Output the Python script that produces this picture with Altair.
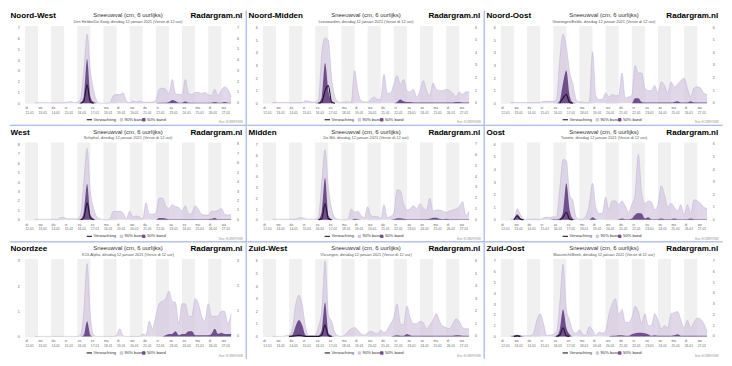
import json
import altair as alt
import pandas as pd

# ---------------- data ----------------
HOURS = list(range(18, 379, 6))  # 12-01 18:00 ... 27-01 18:00, 6-hourly (61 steps)
DAY_NAMES = ["di", "wo", "do", "vr", "za", "zo", "ma", "di", "wo", "do", "vr", "za", "zo", "ma", "di", "wo"]
DAY_DATES = ["12-01", "13-01", "14-01", "15-01", "16-01", "17-01", "18-01", "19-01",
             "20-01", "21-01", "22-01", "23-01", "24-01", "25-01", "26-01", "27-01"]
TICK_HOURS = list(range(0, 361, 24))
SHADED_START = [0, 48, 96, 144, 192, 240, 288, 336]
SHADED_END = [24, 72, 120, 168, 216, 264, 312, 360]

REGIONS = ["Noord-West", "Noord-Midden", "Noord-Oost", "West", "Midden", "Oost",
           "Noordzee", "Zuid-West", "Zuid-Oost"]
STATIONS = ["Den Helder/De Kooy", "Leeuwarden", "Groningen/Eelde", "Schiphol", "De Bilt",
            "Twente", "K13-Alpha", "Vlissingen", "Maastricht/Beek"]
Y_MAX = [7, 6, 6, 8, 7, 6, 3, 6, 7]

N = None
NW_P90 = [0.05, 0.05, 0.05, 0.05, 0.05, 0.05, 0.05, 0.05, 0.05, 0.05, 0.1, 0.15, 0.05,
          0.1, 0.4, 3.0, 6.4, 3.0, 1.2, 0.2, 0.0, 0.0, 0.0, 0.05, 0.7, 0.8, 0.8, 0.95, 0.2,
          0.05, 0.2, 0.1, 0.2, 0.1, 0.1, 0.1, 0.1, 0.3, 1.3, 1.4, 1.3, 0.9, 2.2, 0.9, 0.8,
          0.8, 2.2, 0.9, 0.8, 1.0, 1.0, 0.9, 1.0, 0.8, 0.7, 1.3, 0.7, 1.2, 1.5, 1.3, 0.6]
NW_P50 = [0, 0, 0, 0, 0, 0, 0, 0, 0, 0, 0, 0, 0,
          0, 0.05, 0.6, 4.1, 0.6, 0.1, 0, 0, 0, 0, 0, 0, 0, 0, 0, 0,
          0, 0, 0, 0, 0, 0, 0, 0, 0, 0.05, 0.05, 0.05, 0.1, 0.3, 0.2, 0.05,
          0.05, 0.15, 0.05, 0.05, 0.05, 0.05, 0.05, 0.05, 0.05, 0.05, 0.1, 0.05, 0.05, 0.1, 0.05, 0.05]
NW_MED = [N] * 14 + [0, 0.2, 1.7, 0.1, 0] + [N] * 42

NM_P90 = [0.05, 0.08, 0.05, 0.05, 0.05, 0.05, 0.05, 0.05, 0.05, 0.05, 0.2, 0.15, 0.1,
          0.1, 0.3, 4.0, 5.2, 5.0, 2.0, 0.5, 0.1, 0.05, 0.1, 0.1, 0.05, 2.6, 1.0, 0.2, 0.1,
          0.1, 0.3, 0.5, 0.3, 0.3, 2.3, 0.8, 0.8, 1.5, 2.2, 1.5, 1.9, 1.0, 0.9, 1.1, 0.5,
          1.0, 1.8, 1.0, 0.6, 1.6, 1.1, 1.0, 1.0, 1.1, 1.0, 0.8, 0.5, 0.9, 0.7, 0.9, 0.9]
NM_P50 = [0, 0, 0, 0, 0, 0, 0, 0, 0, 0, 0, 0, 0,
          0, 0.05, 0.5, 3.2, 1.0, 0.2, 0, 0, 0, 0, 0, 0, 0, 0, 0, 0,
          0, 0, 0, 0, 0, 0, 0, 0, 0, 0.1, 0.3, 0.15, 0.1, 0.1, 0.05, 0.05,
          0.05, 0.05, 0.05, 0.05, 0.05, 0.05, 0.05, 0.05, 0.05, 0.05, 0.05, 0.1, 0.1, 0.05, 0.05, 0.05]
NM_MED = [N] * 14 + [0, 0.1, 1.0, 1.4, 0.1, 0] + [N] * 41

NO_P90 = [0.05, 0.08, 0.05, 0.05, 0.05, 0.05, 0.05, 0.05, 0.05, 0.05, 0.15, 0.15, 0.15,
          0.15, 0.3, 3.5, 5.5, 4.5, 2.5, 1.5, 0.3, 0.1, 0.1, 0.05, 0.05, 4.1, 0.6, 0.3, 0.3,
          0.8, 0.5, 0.7, 0.6, 0.6, 2.4, 0.4, 0.5, 0.6, 3.0, 2.4, 2.4, 1.2, 1.0, 1.0, 1.4,
          0.8, 1.7, 1.4, 0.8, 1.7, 1.3, 1.5, 1.8, 2.0, 1.2, 0.5, 1.2, 1.3, 1.2, 0.8, 0.7]
NO_P50 = [0, 0, 0, 0, 0, 0, 0, 0, 0, 0, 0, 0, 0,
          0, 0, 0.2, 1.6, 2.6, 0.6, 0.05, 0, 0, 0, 0, 0, 0, 0, 0, 0,
          0, 0, 0, 0, 0, 0, 0, 0, 0, 0.4, 0.4, 0.1, 0.05, 0.05, 0.05, 0.05,
          0.05, 0.05, 0.05, 0.05, 0.05, 0.1, 0.15, 0.05, 0.05, 0.05, 0.15, 0.05, 0.05, 0.05, 0.05, 0.05]
NO_MED = [N] * 15 + [0, 0.4, 0.7, 0.05, 0] + [N] * 41

W_P90 = [0.05, 0.05, 0.05, 0.05, 0.05, 0.05, 0.05, 0.05, 0.25, 0.25, 0.1, 0.1, 0.1,
         0.1, 0.5, 4.0, 7.6, 3.0, 1.2, 0.3, 0.1, 0.0, 0.0, 0.1, 0.9, 0.9, 0.9, 0.7, 0.1,
         0.9, 0.3, 0.4, 0.3, 0.1, 1.8, 0.6, 0.6, 0.7, 2.3, 2.3, 1.5, 1.2, 1.6, 1.4, 1.3,
         0.9, 1.5, 0.6, 0.7, 1.5, 1.1, 0.6, 0.5, 0.5, 0.9, 0.9, 1.0, 1.2, 0.6, 0.5, 0.6]
W_P50 = [0, 0, 0, 0, 0, 0, 0, 0, 0, 0, 0, 0, 0,
         0, 0.05, 0.8, 3.8, 0.5, 0.1, 0, 0, 0, 0, 0, 0, 0, 0, 0, 0,
         0, 0, 0, 0, 0, 0, 0, 0, 0, 0.2, 0.2, 0.15, 0.05, 0.05, 0.05, 0.05,
         0.05, 0.05, 0.05, 0.05, 0.05, 0.05, 0.05, 0.05, 0.05, 0.1, 0.2, 0.05, 0.05, 0.05, 0.05, 0.05]
W_MED = [N] * 14 + [0, 0.2, 1.8, 0.2, 0] + [N] * 42

M_P90 = [0.05, 0.05, 0.05, 0.05, 0.05, 0.05, 0.05, 0.05, 0.2, 0.2, 0.1, 0.05, 0.05,
         0.05, 0.3, 3.5, 6.5, 3.0, 1.0, 0.2, 0.05, 0.0, 0.0, 0.05, 1.0, 0.7, 0.8, 0.4, 0.2,
         1.2, 0.4, 0.3, 0.3, 0.1, 1.4, 0.2, 0.3, 0.6, 2.8, 2.7, 1.5, 0.9, 1.0, 1.3, 1.0,
         1.5, 1.1, 0.9, 2.0, 0.8, 0.9, 0.9, 0.8, 0.7, 0.8, 0.9, 1.0, 1.2, 1.7, 0.4, 0.8]
M_P50 = [0, 0, 0, 0, 0, 0, 0, 0, 0, 0, 0, 0, 0,
         0, 0.05, 0.8, 3.9, 0.4, 0.05, 0, 0, 0, 0, 0, 0, 0.1, 0.05, 0, 0,
         0, 0, 0, 0, 0, 0, 0, 0, 0.05, 0.15, 0.15, 0.1, 0.05, 0.05, 0.05, 0.05,
         0.05, 0.05, 0.05, 0.1, 0.2, 0.2, 0.1, 0.05, 0.1, 0.05, 0.05, 0.05, 0.05, 0.05, 0.05, 0.05]
M_MED = [N] * 14 + [0, 0.1, 1.5, 0.1, 0] + [N] * 42

O_P90 = [0.05, 0.05, 0.9, 0.4, 0.05, 0.05, 0.05, 0.05, 0.05, 0.05, 0.15, 0.2, 0.2,
         0.25, 0.2, 2.5, 4.8, 4.7, 2.0, 1.5, 0.2, 0.05, 0.05, 0.3, 1.2, 2.9, 1.0, 0.5, 0.5,
         1.8, 0.8, 1.5, 1.5, 1.2, 1.5, 1.1, 0.6, 1.2, 2.0, 5.2, 2.2, 1.3, 1.5, 1.4, 0.8,
         1.2, 2.7, 2.0, 1.0, 1.3, 1.0, 0.7, 1.2, 0.4, 1.2, 0.5, 1.6, 1.5, 1.3, 1.0, 0.9]
O_P50 = [0, 0.05, 0.45, 0.15, 0, 0, 0, 0, 0, 0, 0, 0, 0,
         0.05, 0.05, 0.1, 0.6, 2.9, 0.8, 0.1, 0, 0, 0, 0, 0, 0.2, 0.05, 0, 0,
         0, 0, 0, 0, 0.05, 0.1, 0.05, 0.05, 0.1, 0.4, 0.55, 0.5, 0.1, 0.2, 0.05, 0.05,
         0.05, 0.1, 0.05, 0.05, 0.05, 0.1, 0.05, 0.05, 0.05, 0.05, 0.1, 0.05, 0.05, 0.05, 0.05, 0.05]
O_MED = [N, 0, 0.3, 0.05, 0] + [N] * 10 + [0, 0.2, 0.6, 0.05, 0] + [N] * 41

NZ_P90 = [0, 0, 0, 0, 0, 0, 0, 0, 0, 0, 0, 0, 0,
          0, 0.05, 1.0, 2.9, 0.8, 0.05, 0, 0, 0, 0, 0, 0, 0.05, 0.3, 0.02, 0,
          0, 0, 0, 0, 0.1, 0.05, 0.6, 0.3, 0.8, 1.3, 1.4, 1.5, 1.8, 1.4, 1.35, 0.5,
          1.3, 1.3, 0.8, 0.8, 1.5, 1.3, 0.8, 0.6, 1.3, 0.8, 0.8, 0.8, 1.0, 1.0, 0.5, 0.9]
NZ_P50 = [0, 0, 0, 0, 0, 0, 0, 0, 0, 0, 0, 0, 0,
          0, 0, 0.05, 0.6, 0.05, 0, 0, 0, 0, 0, 0, 0, 0, 0, 0, 0,
          0, 0, 0, 0, 0, 0, 0, 0, 0, 0, 0, 0.05, 0.1, 0.1, 0.2, 0.05,
          0.1, 0.1, 0.2, 0.2, 0.05, 0.05, 0.05, 0.05, 0.05, 0.1, 0.3, 0.1, 0.15, 0.1, 0.1, 0.1]
NZ_MED = [N] * 61

ZW_P90 = [0, 0, 0, 0, 0.05, 0.1, 0.6, 2.5, 3.3, 2.5, 0.8, 0.05, 0.05,
          0.1, 0.8, 2.0, 6.0, 1.7, 1.2, 0.3, 0.05, 0.0, 0.1, 0.4, 0.6, 0.7, 0.5, 0.2, 0.1,
          0.3, 0.4, 0.3, 0.2, 0.5, 0.3, 0.5, 1.0, 1.5, 2.6, 1.0, 0.9, 2.4, 1.5, 1.0, 1.0,
          1.2, 1.1, 0.6, 0.9, 1.3, 1.8, 1.2, 0.8, 0.7, 0.6, 1.0, 1.4, 1.2, 0.7, 0.6, 0.6]
ZW_P50 = [0, 0, 0, 0, 0, 0, 0.1, 0.8, 1.3, 0.9, 0.1, 0, 0,
          0, 0.05, 0.5, 2.7, 0.3, 0.05, 0, 0, 0, 0, 0, 0, 0, 0, 0, 0,
          0, 0, 0, 0, 0, 0, 0, 0, 0.05, 0.1, 0.05, 0.05, 0.2, 0.1, 0.05, 0.05,
          0.05, 0.05, 0.05, 0.05, 0.05, 0.05, 0.05, 0.05, 0.05, 0.05, 0.05, 0.1, 0.1, 0.05, 0.05, 0.05]
ZW_MED = [N] * 5 + [0, 0.02, 0.05, 0.1, 0.05, 0, 0, 0, 0, 0, 0.1, 0.9, 0.05, 0] + [N] * 42

ZO_P90 = [0.05, 0.05, 0.1, 0.05, 0.05, 0.05, 0.05, 0.3, 1.5, 2.1, 1.2, 0.1, 0.1,
          0.2, 0.4, 3.0, 6.7, 2.5, 1.5, 0.5, 0.3, 0.6, 0.2, 0.1, 0.9, 0.6, 0.1, 0.4, 0.3,
          0.5, 2.0, 3.0, 3.5, 2.0, 2.5, 1.3, 1.3, 1.7, 2.8, 2.3, 1.2, 2.1, 1.0, 1.0, 2.1,
          1.5, 0.7, 1.0, 0.8, 2.1, 2.2, 2.3, 1.5, 0.8, 1.5, 0.8, 1.3, 1.7, 1.6, 1.2, 0.4]
ZO_P50 = [0, 0.05, 0.15, 0.05, 0, 0, 0, 0, 0, 0, 0, 0, 0,
          0, 0.05, 0.6, 2.5, 0.8, 0.2, 0, 0, 0, 0, 0, 0, 0, 0, 0, 0,
          0, 0, 0.05, 0.05, 0.1, 0.1, 0.05, 0.05, 0.2, 0.3, 0.35, 0.35, 0.3, 0.2, 0.05, 0.1,
          0.05, 0.05, 0.05, 0.05, 0.05, 0.1, 0.2, 0.05, 0.05, 0.05, 0.05, 0.05, 0.05, 0.05, 0.05, 0.05]
ZO_MED = [N, 0, 0.05, 0] + [N] * 10 + [0, 0.1, 0.8, 0.05, 0] + [N] * 42

P90 = [NW_P90, NM_P90, NO_P90, W_P90, M_P90, O_P90, NZ_P90, ZW_P90, ZO_P90]
P50 = [NW_P50, NM_P50, NO_P50, W_P50, M_P50, O_P50, NZ_P50, ZW_P50, ZO_P50]
MED = [NW_MED, NM_MED, NO_MED, W_MED, M_MED, O_MED, NZ_MED, ZW_MED, ZO_MED]

LEGEND_LABELS = ["Verwachting", "90% band", "50% band"]
CHART_TITLE = "Sneeuwval (cm, 6 uurlijks)"
BRAND = "Radargram.nl"
SUBTITLE_SUFFIX = ", dinsdag 12 januari 2021 (Versie di 12 uur)"
SOURCE = "Bron: ECMWF/KNMI"

# ---------------- layout ----------------
FONT = "Liberation Sans"
SX = 716 / 732
SY = 350 / 366
W = 212 * SX
H = 82 * SY
PANEL_W = 244 * SX
PANEL_H = 122 * SY


def rx(ref):
    return (ref - 16) * SX


def ry(ref):
    return (ref - 17) * SY


BAND_COLOR = "#f0f0f0"
P90_COLOR = "#d3c6e0"
P90_EDGE = "#c0afd2"
P50_COLOR = "#6f4f8b"
MED_COLOR = "#22132e"
BORDER = "#8ea6d8"
LABEL_COLOR = "#666666"

LABEL_EXPR = ("[" + json.dumps(DAY_NAMES) + "[datum.value/24], "
              + json.dumps(DAY_DATES) + "[datum.value/24]]")


def text_layer(text, x, y, size, color, weight="normal", align="left", baseline="alphabetic"):
    return alt.Chart(pd.DataFrame({"t": [text]})).mark_text(
        font=FONT, fontSize=size, color=color, fontWeight=weight, align=align, baseline=baseline
    ).encode(text="t:N", x=alt.value(x), y=alt.value(y))


def vrule(x, y1, y2, color, width=1.0):
    return alt.Chart(pd.DataFrame({"a": [0]})).mark_rule(color=color, strokeWidth=width).encode(
        x=alt.value(x), y=alt.value(y1), y2=alt.value(y2))


def hrule(y, x1, x2, color, width=1.0):
    return alt.Chart(pd.DataFrame({"a": [0]})).mark_rule(color=color, strokeWidth=width).encode(
        y=alt.value(y), x=alt.value(x1), x2=alt.value(x2))


def panel(k):
    row, col = divmod(k, 3)
    ymax = Y_MAX[k]
    med = MED[k]
    seg, s, prev = [], 0, False
    for v in med:
        if v is None and prev:
            s += 1
        prev = v is not None
        seg.append(s)
    df = pd.DataFrame({"hour": HOURS, "p90": P90[k], "p50": P50[k], "med": med, "seg": seg})

    xs = alt.Scale(domain=[0, 378], nice=False, zero=False)
    ys = alt.Scale(domain=[-ymax * 0.7 / 79.3, ymax * 81.3 / 79.3], nice=False, zero=False)
    xaxis = alt.Axis(values=TICK_HOURS, labelExpr=LABEL_EXPR, labelAlign="left", labelBaseline="top",
                     labelFont=FONT, labelFontSize=3.3, labelLineHeight=4.8, labelPadding=1.6,
                     labelColor=LABEL_COLOR, labelFlush=False, labelOverlap=False, ticks=False,
                     domain=False, grid=False, title=None)
    yaxis = alt.Axis(values=list(range(ymax + 1)), labelFont=FONT, labelFontSize=3.6, labelPadding=5.6,
                     labelColor=LABEL_COLOR, ticks=False, domain=False, grid=False, title=None,
                     labelOverlap=False, labelFlush=False)

    bands = alt.Chart(pd.DataFrame({"s": SHADED_START, "e": SHADED_END})).mark_rect(
        color=BAND_COLOR).encode(
        x=alt.X("s:Q", scale=xs, axis=xaxis), x2="e:Q", y=alt.value(0), y2=alt.value(H))
    base = alt.Chart(df)
    a90 = base.mark_area(interpolate="monotone", color=P90_COLOR,
                         line={"color": P90_EDGE, "strokeWidth": 0.5}).encode(
        x=alt.X("hour:Q", scale=xs, axis=xaxis), y=alt.Y("p90:Q", scale=ys, axis=yaxis))
    a50 = base.mark_area(interpolate="monotone", color=P50_COLOR).encode(
        x=alt.X("hour:Q", scale=xs, axis=xaxis), y=alt.Y("p50:Q", scale=ys, axis=yaxis))
    line = base.mark_line(interpolate="monotone", color=MED_COLOR, strokeWidth=1.1).encode(
        x=alt.X("hour:Q", scale=xs, axis=xaxis), y=alt.Y("med:Q", scale=ys, axis=yaxis),
        detail="seg:N")
    right = alt.Chart(pd.DataFrame({"v": list(range(ymax + 1))})).mark_text(
        font=FONT, fontSize=3.6, color=LABEL_COLOR, align="center", baseline="middle").encode(
        y=alt.Y("v:Q", scale=ys, axis=yaxis), x=alt.value(rx(235)), text="v:Q")

    layers = [bands, a90, a50, line, right,
              text_layer(REGIONS[k], rx(1.2), ry(8.7), 8.1, "#000000", weight="bold"),
              text_layer(CHART_TITLE, rx(122), ry(7.7), 6.0, "#333333", align="center"),
              text_layer(BRAND, rx(239.5), ry(8.7), 8.1, "#000000", weight="bold", align="right"),
              text_layer(STATIONS[k] + SUBTITLE_SUFFIX, rx(122), ry(13.8), 3.9, "#555555", align="center"),
              text_layer(SOURCE, rx(240), ry(119.6), 2.6, "#999999", align="right")]

    # legend
    ly = ry(115.7)
    layers.append(hrule(ly, rx(79.5), rx(85), MED_COLOR, 1.1))
    layers.append(text_layer(LEGEND_LABELS[0], rx(86.5), ly, 4.2, "#333333", baseline="middle"))
    layers.append(alt.Chart(pd.DataFrame({"a": [0]})).mark_rect(color=P90_COLOR, cornerRadius=1).encode(
        x=alt.value(rx(113.5)), x2=alt.value(rx(117)), y=alt.value(ly - 1.7), y2=alt.value(ly + 1.7)))
    layers.append(text_layer(LEGEND_LABELS[1], rx(118.5), ly, 4.2, "#333333", baseline="middle"))
    layers.append(alt.Chart(pd.DataFrame({"a": [0]})).mark_rect(color=P50_COLOR, cornerRadius=1).encode(
        x=alt.value(rx(136.5)), x2=alt.value(rx(140)), y=alt.value(ly - 1.7), y2=alt.value(ly + 1.7)))
    layers.append(text_layer(LEGEND_LABELS[2], rx(141.5), ly, 4.2, "#333333", baseline="middle"))

    # panel borders / extents
    if col < 2:
        layers.append(vrule(rx(243.5), ry(0), ry(122), BORDER))
    if row < 2:
        layers.append(hrule(ry(121.5), rx(0), rx(244), BORDER))
    if col == 0:
        layers.append(vrule(rx(0.5), ry(0), ry(122), "#ffffff"))
    if row == 0:
        layers.append(hrule(ry(0.5), rx(0), rx(244), "#ffffff"))

    return alt.layer(*layers).properties(width=W, height=H)


panels = [panel(k) for k in range(9)]
chart = alt.concat(*panels, columns=3, bounds="flush",
                   spacing={"row": PANEL_H - H, "column": PANEL_W - W}).properties(
    padding=0, background="#ffffff"
).configure_view(strokeWidth=0)

chart.save("out.html", embed_options={"renderer": "svg", "actions": False})
